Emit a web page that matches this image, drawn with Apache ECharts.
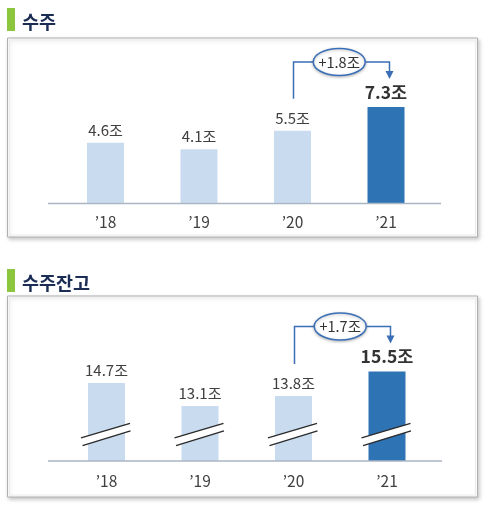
<!DOCTYPE html>
<html>
<head>
<meta charset="utf-8">
<script src="https://cdn.jsdelivr.net/npm/echarts@6/dist/echarts.min.js"></script>
<style>
  html, body { margin: 0; padding: 0; background: #ffffff; }
  #chart { width: 489px; height: 507px; }
</style>
</head>
<body>
<div id="chart"></div>
<script>
// Years shown on both panels
const years = ['’18', '’19', '’20', '’21'];
// 수주 (orders), 조 원
const orders = [4.6, 4.1, 5.5, 7.3];
// 수주잔고 (order backlog), 조 원
const backlog = [14.7, 13.1, 13.8, 15.5];
const unit = '조';
// Level (in backlog units) where the axis-break marks cross the bars
const breakLevel = 11.15;

const FONT = '"Noto Sans CJK KR", "Noto Sans", sans-serif';
const LIGHT = '#c9dcef';
const DARK = '#2e74b5';
const ARROW = '#3a6fb8';

function barData(values) {
  return values.map((v, i) => ({
    value: v,
    itemStyle: { color: i === values.length - 1 ? DARK : LIGHT },
    label: i === values.length - 1
      ? { fontSize: 17.5, fontWeight: 'bold', color: '#333333', distance: 6 }
      : undefined
  }));
}

// Elbow connector with a rounded bubble showing the year-on-year increase
function changeRenderer(params, api) {
  const a = api.coord([api.value(0), api.value(1)]);
  const b = api.coord([api.value(2), api.value(3)]);
  const diff = (api.value(3) - api.value(1)).toFixed(1);
  const ey = b[1] - 45;
  const xL = a[0] + 1;
  const xR = b[0] + 3.5;
  const cx = (a[0] + b[0]) / 2;
  const rx = 26, ry = 13.5;
  const tipY = b[1] - 28;
  return {
    type: 'group',
    children: [
      { type: 'polyline', shape: { points: [[xL, a[1] - 32], [xL, ey], [cx - rx, ey]] },
        style: { stroke: ARROW, lineWidth: 1.5, fill: null } },
      { type: 'polyline', shape: { points: [[cx + rx, ey], [xR, ey], [xR, tipY - 7]] },
        style: { stroke: ARROW, lineWidth: 1.5, fill: null } },
      { type: 'polygon', shape: { points: [[xR - 4, tipY - 8], [xR + 4, tipY - 8], [xR, tipY]] },
        style: { fill: ARROW } },
      { type: 'ellipse', shape: { cx: cx, cy: ey, rx: rx, ry: ry },
        style: { fill: '#ffffff', stroke: ARROW, lineWidth: 1.5,
                 shadowBlur: 3, shadowOffsetY: 1, shadowColor: 'rgba(0,0,0,0.25)' } },
      { type: 'text', style: { x: cx, y: ey + 0.5, text: '+' + diff + unit, align: 'center',
                 verticalAlign: 'middle', fontSize: 14.5, fontFamily: FONT, fill: '#333333' } }
    ]
  };
}

// Double-slash axis-break mark drawn across a bar
function breakRenderer(params, api) {
  const p = api.coord([api.value(0), api.value(1)]);
  const x = p[0], y = p[1];
  const l1 = [[x - 25.5, y + 3.6], [x + 23.5, y - 10.8]];
  const l2 = [[x - 24, y + 11.3], [x + 24, y - 3.5]];
  return {
    type: 'group',
    children: [
      { type: 'polygon', shape: { points: [l1[0], l1[1], l2[1], l2[0]] },
        style: { fill: '#ffffff' } },
      { type: 'polyline', shape: { points: l1 }, style: { stroke: '#2a2a2a', lineWidth: 1.3, fill: null } },
      { type: 'polyline', shape: { points: l2 }, style: { stroke: '#2a2a2a', lineWidth: 1.3, fill: null } }
    ]
  };
}

function panel(y, h) {
  return [
    { type: 'rect', shape: { x: 7.5, y: y + 0.5, width: 470, height: h },
      style: { fill: '#ffffff', stroke: '#b0b0b0', lineWidth: 1,
               shadowBlur: 4, shadowOffsetX: 1.5, shadowOffsetY: 2, shadowColor: 'rgba(0,0,0,0.22)' }, z: 0 },
    { type: 'rect', shape: { x: 9.5, y: y + 2.5, width: 466, height: h - 4 },
      style: { fill: null, stroke: '#ececec', lineWidth: 1 }, z: 0 }
  ];
}

const chart = echarts.init(document.getElementById('chart'), null, { renderer: 'canvas' });

const axisLabel = (margin) => ({
  fontSize: 15.5, lineHeight: 16, color: '#404040', fontFamily: FONT, margin: margin
});

chart.setOption({
  backgroundColor: '#ffffff',
  animation: false,
  textStyle: { fontFamily: FONT },
  title: [
    { text: '수주', left: 17, top: 8,
      textStyle: { fontSize: 18.5, fontWeight: 'bold', color: '#1b2c55', fontFamily: FONT } },
    { text: '수주잔고', left: 17, top: 269,
      textStyle: { fontSize: 18.5, fontWeight: 'bold', color: '#1b2c55', fontFamily: FONT } }
  ],
  graphic: [
    { type: 'rect', shape: { x: 7, y: 8, width: 8, height: 23 }, style: { fill: '#8cc63f' } },
    { type: 'rect', shape: { x: 7, y: 269, width: 8, height: 23 }, style: { fill: '#8cc63f' } },
    ...panel(37.5, 199),
    ...panel(295.5, 201),
    { type: 'line', shape: { x1: 48, y1: 203.5, x2: 441, y2: 203.5 },
      style: { stroke: '#aab6c3', lineWidth: 1.5 }, z: 10 },
    { type: 'line', shape: { x1: 48, y1: 461, x2: 442, y2: 461 },
      style: { stroke: '#aab6c3', lineWidth: 1.5 }, z: 10 }
  ],
  grid: [
    { left: 58.75, width: 374, top: 97.7, height: 105.8 },
    { left: 59.75, width: 374, top: 364.2, height: 96.8 }
  ],
  xAxis: [
    { type: 'category', gridIndex: 0, data: years,
      axisLine: { show: false }, axisTick: { show: false }, axisLabel: axisLabel(11) },
    { type: 'category', gridIndex: 1, data: years,
      axisLine: { show: false }, axisTick: { show: false }, axisLabel: axisLabel(12) }
  ],
  yAxis: [
    { type: 'value', gridIndex: 0, min: 0, max: 8, show: false, splitLine: { show: false } },
    { type: 'value', gridIndex: 1, min: 9.3, max: 16, show: false, splitLine: { show: false } }
  ],
  series: [
    { type: 'bar', xAxisIndex: 0, yAxisIndex: 0, barWidth: 37, data: barData(orders), z: 2,
      label: { show: true, position: 'top', distance: 5, fontSize: 15, color: '#404040',
               fontFamily: FONT, formatter: (p) => p.value.toFixed(1) + unit } },
    { type: 'bar', xAxisIndex: 1, yAxisIndex: 1, barWidth: 37, data: barData(backlog), z: 2,
      label: { show: true, position: 'top', distance: 5, fontSize: 15, color: '#404040',
               fontFamily: FONT, formatter: (p) => p.value.toFixed(1) + unit } },
    { type: 'custom', xAxisIndex: 1, yAxisIndex: 1, z: 5, clip: false, silent: true,
      renderItem: breakRenderer,
      data: backlog.map((v, i) => [i, breakLevel]) },
    { type: 'custom', xAxisIndex: 0, yAxisIndex: 0, z: 6, clip: false, silent: true,
      renderItem: changeRenderer, encode: { x: 0, y: 1 },
      data: [[2, orders[2], 3, orders[3]]] },
    { type: 'custom', xAxisIndex: 1, yAxisIndex: 1, z: 6, clip: false, silent: true,
      renderItem: changeRenderer, encode: { x: 0, y: 1 },
      data: [[2, backlog[2], 3, backlog[3]]] }
  ]
});
</script>
</body>
</html>
